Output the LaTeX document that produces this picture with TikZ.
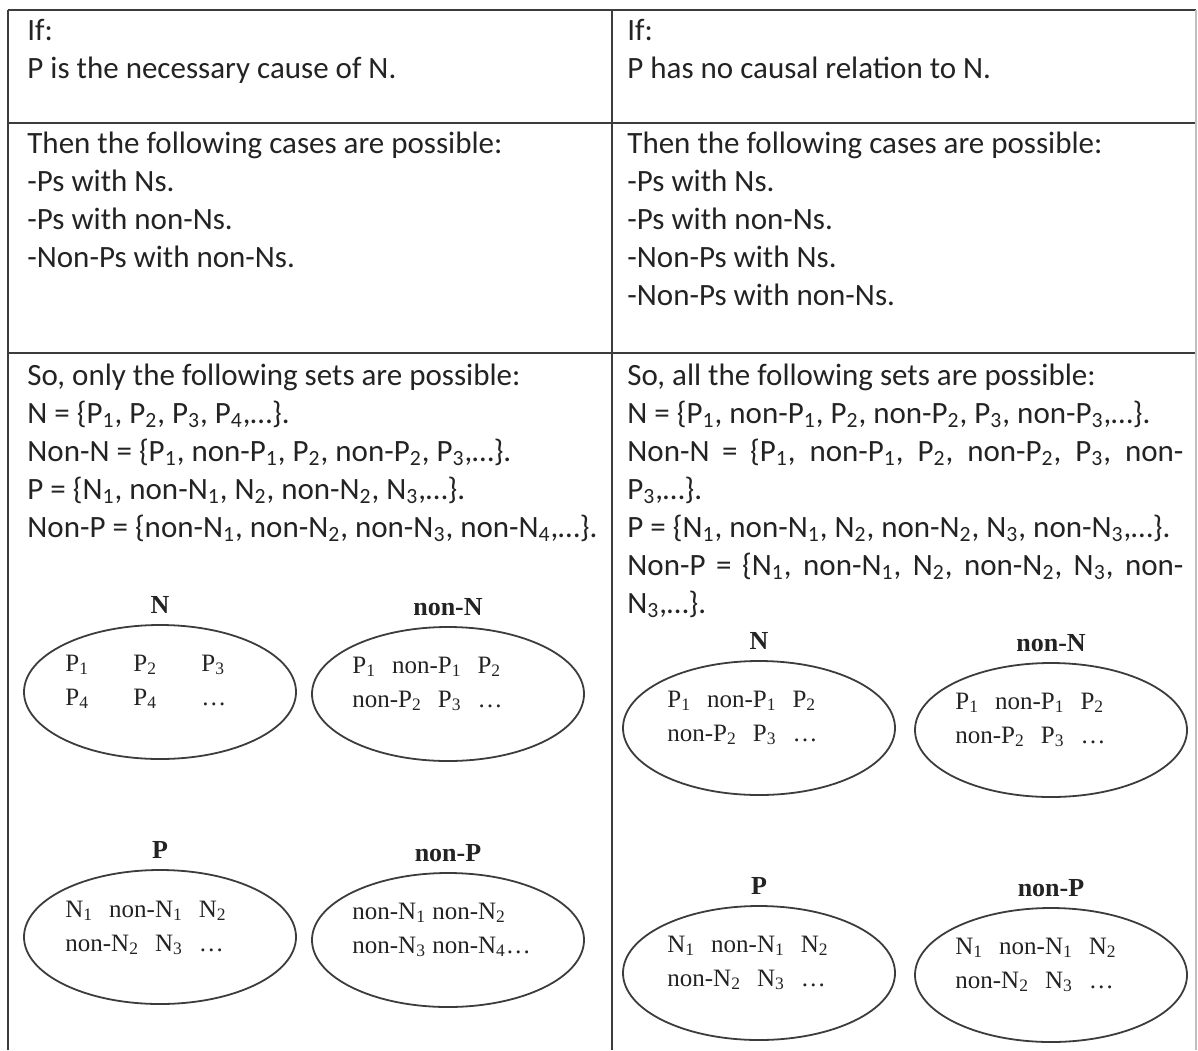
\documentclass[tikz,border=0pt]{standalone}
\usepackage{fontspec}
\setmainfont{Carlito}
\newfontfamily\setserif{Liberation Serif}
\usepackage{xcolor}
\usetikzlibrary{positioning,shapes.geometric}
\definecolor{rulegrey}{RGB}{60,60,60}
\definecolor{inkgrey}{RGB}{35,35,35}
\newcommand\sbs[1]{\textsubscript{#1}}
\newcommand\gp{\hspace{8pt}}
\tikzset{
  rule/.style={draw=rulegrey,line width=1pt},
  cell/.style={anchor=base west,inner sep=0pt,align=left,text=inkgrey,
               font=\fontsize{15.5}{19}\selectfont},
  setell/.style={draw=rulegrey,ellipse,line width=0.9pt,inner sep=0pt,
                 minimum width=136pt,minimum height=67pt},
  setlbl/.style={font=\setserif\bfseries\fontsize{13}{15}\selectfont,inner sep=1pt,text=inkgrey},
  settxt/.style={anchor=west,align=left,inner sep=0pt,text=inkgrey,
                 font=\setserif\fontsize{12.5}{17}\selectfont},
}

\begin{document}
\begin{tikzpicture}[x=0.5pt,y=-0.5pt]
  \useasboundingbox (0,0) rectangle (1198,1050);
  \coordinate (tl) at (8,10);    \coordinate (tm) at (612,10);   \coordinate (tr) at (1196,10);
  \coordinate (bl) at (8,1050);  \coordinate (bm) at (612,1050); \coordinate (br) at (1196,1050);
  \coordinate (al) at (8,123);   \coordinate (ar) at (1196,123);
  \coordinate (cl) at (8,353);   \coordinate (cr) at (1196,353);

  \draw[rule] (tl) -- (tr);
  \draw[rule] (al) -- (ar);
  \draw[rule] (cl) -- (cr);
  \draw[rule] (tl) -- (bl);
  \draw[rule] (tm) -- (bm);
  \draw[rule,draw=black!25] (tr) -- (br);

  \node[cell] (ifl) at (27,78) {If:\\P is the necessary cause of N.};
  \node[cell] (ifr) at (627,78) {If:\\P has no causal relation to N.};

  \node[cell] (casel) at (27,267)
    {Then the following cases are possible:\\-Ps with Ns.\\-Ps with non-Ns.\\-Non-Ps with non-Ns.};
  \node[cell] (caser) at (627,305)
    {Then the following cases are possible:\\-Ps with Ns.\\-Ps with non-Ns.\\-Non-Ps with Ns.\\-Non-Ps with non-Ns.};

  \node[cell] (setsl) at (27,537)
    {So, only the following sets are possible:\\
     N = \{P\sbs{1}, P\sbs{2}, P\sbs{3}, P\sbs{4},\ldots\}.\\
     Non-N = \{P\sbs{1}, non-P\sbs{1}, P\sbs{2}, non-P\sbs{2}, P\sbs{3},\ldots\}.\\
     P = \{N\sbs{1}, non-N\sbs{1}, N\sbs{2}, non-N\sbs{2}, N\sbs{3},\ldots\}.\\
     Non-P = \{non-N\sbs{1}, non-N\sbs{2}, non-N\sbs{3}, non-N\sbs{4},\ldots\}.};
  \node[cell] (setsr) at (627,613)
    {So, all the following sets are possible:\\
     N = \{P\sbs{1}, non-P\sbs{1}, P\sbs{2}, non-P\sbs{2}, P\sbs{3}, non-P\sbs{3},\ldots\}.\\
     \makebox[278pt][s]{Non-N = \{P\sbs{1}, non-P\sbs{1}, P\sbs{2}, non-P\sbs{2}, P\sbs{3}, non-}\\
     P\sbs{3},\ldots\}.\\
     P = \{N\sbs{1}, non-N\sbs{1}, N\sbs{2}, non-N\sbs{2}, N\sbs{3}, non-N\sbs{3},\ldots\}.\\
     \makebox[278pt][s]{Non-P = \{N\sbs{1}, non-N\sbs{1}, N\sbs{2}, non-N\sbs{2}, N\sbs{3}, non-}\\
     N\sbs{3},\ldots\}.};

  \node[setell] (nl)  at (160,692) {};
  \node[setell] (nnl) at (448,694) {};
  \node[setell] (pl)  at (160,937) {};
  \node[setell] (npl) at (448,940) {};
  \node[setell] (nr)  at (759,728) {};
  \node[setell] (nnr) at (1051,730) {};
  \node[setell] (pr)  at (759,973) {};
  \node[setell] (npr) at (1051,975) {};

  \node[setlbl,above=4pt of nl]  (nlb)  {N};
  \node[setlbl,above=4pt of nnl] (nnlb) {non-N};
  \node[setlbl,above=4pt of pl]  (plb)  {P};
  \node[setlbl,above=4pt of npl] (nplb) {non-P};
  \node[setlbl,above=4pt of nr]  (nrb)  {N};
  \node[setlbl,above=4pt of nnr] (nnrb) {non-N};
  \node[setlbl,above=4pt of pr]  (prb)  {P};
  \node[setlbl,above=4pt of npr] (nprb) {non-P};

  \node[settxt] (nlt) at (65,682)
    {\makebox[34pt][l]{P\sbs{1}}\makebox[34pt][l]{P\sbs{2}}P\sbs{3}\\
     \makebox[34pt][l]{P\sbs{4}}\makebox[34pt][l]{P\sbs{4}}\ldots};
  \node[settxt] (nnlt) at (352,684)
    {P\sbs{1}\gp non-P\sbs{1}\gp P\sbs{2}\\non-P\sbs{2}\gp P\sbs{3}\gp\ldots};
  \node[settxt] (plt) at (65,928)
    {N\sbs{1}\gp non-N\sbs{1}\gp N\sbs{2}\\non-N\sbs{2}\gp N\sbs{3}\gp\ldots};
  \node[settxt] (nplt) at (352,930)
    {non-N\sbs{1} non-N\sbs{2}\\non-N\sbs{3} non-N\sbs{4}\ldots};
  \node[settxt] (nrt) at (667,718)
    {P\sbs{1}\gp non-P\sbs{1}\gp P\sbs{2}\\non-P\sbs{2}\gp P\sbs{3}\gp\ldots};
  \node[settxt] (nnrt) at (955,720)
    {P\sbs{1}\gp non-P\sbs{1}\gp P\sbs{2}\\non-P\sbs{2}\gp P\sbs{3}\gp\ldots};
  \node[settxt] (prt) at (667,963)
    {N\sbs{1}\gp non-N\sbs{1}\gp N\sbs{2}\\non-N\sbs{2}\gp N\sbs{3}\gp\ldots};
  \node[settxt] (nprt) at (955,965)
    {N\sbs{1}\gp non-N\sbs{1}\gp N\sbs{2}\\non-N\sbs{2}\gp N\sbs{3}\gp\ldots};
\end{tikzpicture}
\end{document}
